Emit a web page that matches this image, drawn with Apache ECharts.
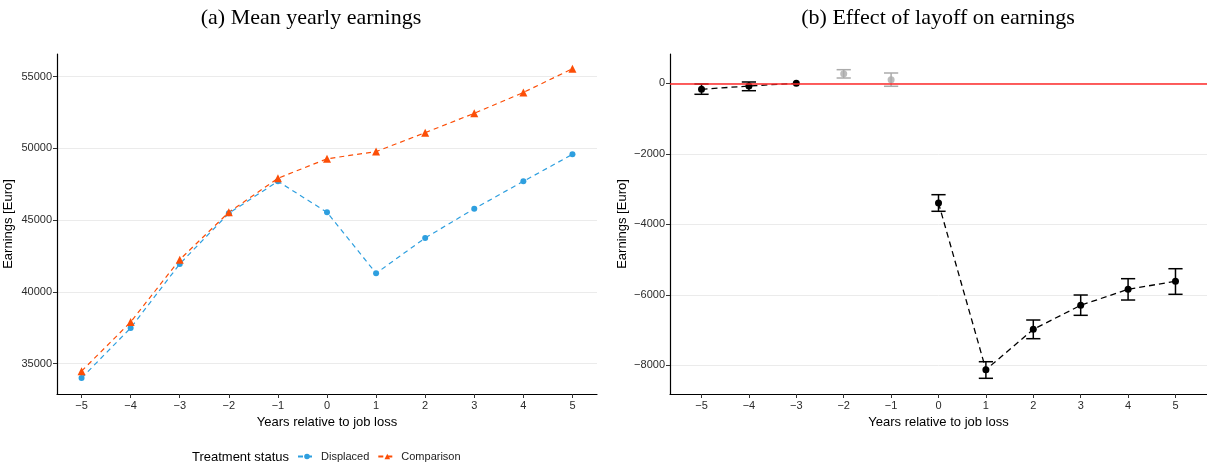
<!DOCTYPE html>
<html><head><meta charset="utf-8">
<script src="https://cdn.jsdelivr.net/npm/echarts@6/dist/echarts.min.js"></script>
<style>html,body{margin:0;padding:0;background:#fff}#c{width:1207px;height:466px}</style>
</head><body><div id="c"></div>
<script>
const years = [-5,-4,-3,-2,-1,0,1,2,3,4,5];
const displaced = [34000, 37490, 41950, 45480, 47710, 45550, 41300, 43760, 45800, 47710, 49590];
const comparison = [34480, 37900, 42250, 45550, 47920, 49280, 49780, 51100, 52450, 53900, 55560];
const effect = [-170, -77, 0, 272, 102, -3396, -8125, -6979, -6298, -5844, -5617];
const effectLow = [-312, -210, null, 150, -85, -3631, -8369, -7245, -6582, -6148, -5986];
const effectHigh = [-20, 37, null, 386, 292, -3160, -7898, -6715, -6006, -5543, -5260];
const effectGrey = [false, false, false, true, true, false, false, false, false, false, false];
const yTicksA = [35000, 40000, 45000, 50000, 55000];
const yTicksB = [-8000, -6000, -4000, -2000, 0];
const xTicks = [-5,-4,-3,-2,-1,0,1,2,3,4,5];

const BLUE = '#2E9FDF', ORANGE = '#FC4E07';
const FONT = 'Liberation Sans';
const minus = v => String(v).replace('-', '\u2212');

function xAxisCfg(idx, min, max){
  return {
    type:'value', gridIndex:idx, min:min, max:max,
    name:'Years relative to job loss', nameLocation:'middle', nameGap:20,
    nameTextStyle:{fontFamily:FONT, fontSize:13, color:'#000'},
    axisLine:{show:true, onZero:false, lineStyle:{color:'#000', width:1.2}},
    axisTick:{show:true, length:4, customValues:xTicks, lineStyle:{color:'#333'}},
    axisLabel:{customValues:xTicks, formatter:minus, fontFamily:FONT, fontSize:11, color:'#2b2b2b', margin:6},
    splitLine:{show:false}
  };
}
function yAxisCfg(idx, min, max, ticks, gap){
  return {
    type:'value', gridIndex:idx, min:min, max:max,
    name:'Earnings [Euro]', nameLocation:'middle', nameGap:gap, nameRotate:90,
    nameTextStyle:{fontFamily:FONT, fontSize:13, color:'#000'},
    axisLine:{show:true, onZero:false, lineStyle:{color:'#000', width:1.2}},
    axisTick:{show:true, length:4, customValues:ticks, lineStyle:{color:'#333'}},
    axisLabel:{customValues:ticks, formatter:minus, fontFamily:FONT, fontSize:11, color:'#2b2b2b', margin:5},
    splitLine:{show:true, lineStyle:{color:'#EBEBEB', width:1}}
  };
}

const dispData = years.map((y,i)=>[y, displaced[i]]);
const compData = years.map((y,i)=>[y, comparison[i]]);
const preData = [], postData = [], greyData = [], errData = [];
years.forEach((y,i)=>{
  if (effectGrey[i]) greyData.push([y, effect[i]]);
  else if (y < 0) preData.push([y, effect[i]]);
  else postData.push([y, effect[i]]);
  if (effectLow[i] !== null) errData.push([y, effectLow[i], effectHigh[i], effectGrey[i] ? 1 : 0]);
});

const chart = echarts.init(document.getElementById('c'), null, {renderer:'canvas'});
chart.setOption({
  animation:false,
  backgroundColor:'#fff',
  grid:[
    {left:57, top:54, width:540, height:340},
    {left:670, top:54, width:539, height:340}
  ],
  xAxis:[xAxisCfg(0, -5.5, 5.5), xAxisCfg(1, -5.665, 5.665)],
  yAxis:[yAxisCfg(0, 32888, 56582, yTicksA, 42), yAxisCfg(1, -8814, 831, yTicksB, 41)],
  legend:{
    data:['Displaced','Comparison'], left:292, top:446, itemWidth:18, itemHeight:7, itemGap:8,
    textStyle:{fontFamily:FONT, fontSize:11, color:'#222'}
  },
  graphic:[
    {type:'text', x:311, y:18, style:{text:'(a) Mean yearly earnings', font:'22px "Liberation Serif"', fill:'#000', textAlign:'center', textVerticalAlign:'middle'}},
    {type:'text', x:938, y:18, style:{text:'(b) Effect of layoff on earnings', font:'22px "Liberation Serif"', fill:'#000', textAlign:'center', textVerticalAlign:'middle'}},
    {type:'text', x:289, y:457, style:{text:'Treatment status', font:'13px "Liberation Sans"', fill:'#000', textAlign:'right', textVerticalAlign:'middle'}}
  ],
  series:[
    {name:'Displaced', type:'line', xAxisIndex:0, yAxisIndex:0, data:dispData,
      symbol:'circle', symbolSize:6, itemStyle:{color:BLUE},
      lineStyle:{color:BLUE, width:1.2, type:[5,4]}},
    {name:'Comparison', type:'line', xAxisIndex:0, yAxisIndex:0, data:compData,
      symbol:'triangle', symbolSize:8, itemStyle:{color:ORANGE},
      lineStyle:{color:ORANGE, width:1.2, type:[5,4]}},
    {name:'zero', type:'line', xAxisIndex:1, yAxisIndex:1, data:[], z:1,
      markLine:{silent:true, symbol:'none', label:{show:false},
        lineStyle:{color:'#FF2A2A', width:1.5, type:'solid'}, data:[{yAxis:0}]}},
    {name:'ci', type:'custom', xAxisIndex:1, yAxisIndex:1, data:errData, z:3,
      renderItem:function(params, api){
        const x = api.value(0), lo = api.value(1), hi = api.value(2), g = api.value(3);
        const top = api.coord([x, hi]), bot = api.coord([x, lo]);
        const half = api.size([0.15, 0])[0];
        const st = {stroke: g ? '#ABABAB' : '#000', lineWidth:1.5, fill:null};
        return {type:'group', children:[
          {type:'line', shape:{x1:top[0], y1:top[1], x2:bot[0], y2:bot[1]}, style:st},
          {type:'line', shape:{x1:top[0]-half, y1:top[1], x2:top[0]+half, y2:top[1]}, style:st},
          {type:'line', shape:{x1:bot[0]-half, y1:bot[1], x2:bot[0]+half, y2:bot[1]}, style:st}
        ]};
      }},
    {name:'pre', type:'line', xAxisIndex:1, yAxisIndex:1, data:preData, z:4,
      symbol:'circle', symbolSize:7, itemStyle:{color:'#000'},
      lineStyle:{color:'#000', width:1.3, type:[6,4]}},
    {name:'post', type:'line', xAxisIndex:1, yAxisIndex:1, data:postData, z:4,
      symbol:'circle', symbolSize:7, itemStyle:{color:'#000'},
      lineStyle:{color:'#000', width:1.3, type:[6,4]}},
    {name:'grey', type:'scatter', xAxisIndex:1, yAxisIndex:1, data:greyData, z:4,
      symbol:'circle', symbolSize:7, itemStyle:{color:'#ABABAB'}}
  ]
});
</script></body></html>
